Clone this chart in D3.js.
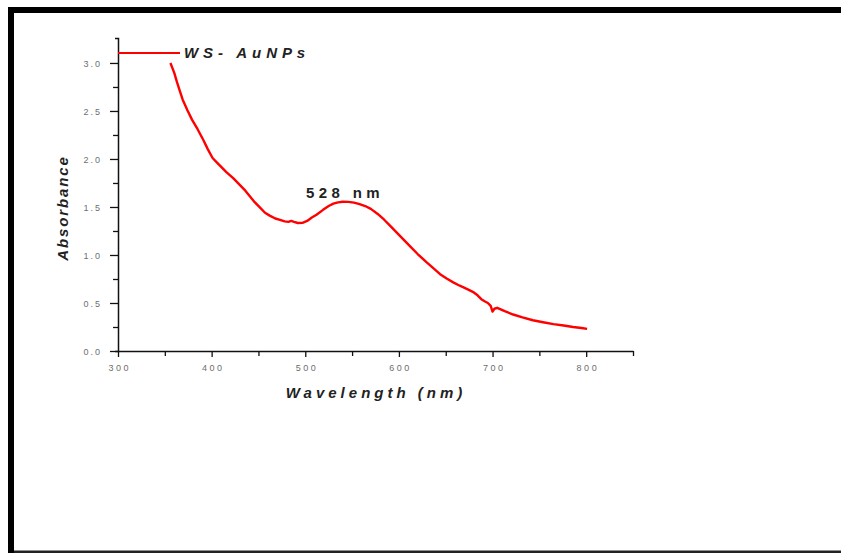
<!DOCTYPE html>
<html>
<head>
<meta charset="utf-8">
<script src="https://cdn.jsdelivr.net/npm/d3@7"></script>
<style>
  body { margin: 0; background: #fff; }
  svg { display: block; font-family: "Liberation Sans", Arial, sans-serif; }
</style>
</head>
<body>
<div id="chart"></div>
<script>
// UV-Vis spectrum values
var wavelengths = [356, 360, 363, 366, 369, 374, 379, 385, 391, 396, 401, 406, 411, 416, 423, 430, 436, 441, 446, 452,
                   457, 462, 468, 473, 478, 482, 485, 488, 492, 497, 502, 507, 512, 519, 525, 530, 535, 540, 546,
                   552, 558, 564, 570, 577, 584, 591, 598, 605, 612, 620, 630, 637, 644, 651, 658, 665, 673, 680,
                   684, 688, 692, 695, 698, 700, 702, 705, 713, 722, 732, 743, 754, 765, 776, 786, 795, 801];
var absorbance  = [3.00, 2.90, 2.80, 2.71, 2.62, 2.51, 2.41, 2.31, 2.20, 2.10, 2.01, 1.96, 1.91, 1.86, 1.80, 1.73, 1.67, 1.61, 1.55, 1.49,
                   1.44, 1.41, 1.38, 1.365, 1.35, 1.345, 1.355, 1.345, 1.333, 1.335, 1.355, 1.39, 1.42, 1.47, 1.51, 1.535, 1.548, 1.555, 1.553,
                   1.545, 1.53, 1.51, 1.48, 1.43, 1.37, 1.30, 1.23, 1.16, 1.09, 1.01, 0.92, 0.86, 0.80, 0.755, 0.715, 0.68, 0.645, 0.61,
                   0.58, 0.54, 0.515, 0.50, 0.47, 0.41, 0.44, 0.45, 0.415, 0.38, 0.35, 0.32, 0.30, 0.28, 0.265, 0.25, 0.24, 0.23];

var xMajorTicks = [300, 400, 500, 600, 700, 800];
var xMinorTicks = [350, 450, 550, 650, 750, 850];
var yMajorTicks = [0.0, 0.5, 1.0, 1.5, 2.0, 2.5, 3.0];
var yMinorTicks = [0.25, 0.75, 1.25, 1.75, 2.25, 2.75];

var seriesName = "WS- AuNPs";
var peakLabel = "528 nm";
var xTitle = "Wavelength (nm)";
var yTitle = "Absorbance";

var W = 841, H = 553;
var svg = d3.select("#chart").append("svg")
  .attr("width", W).attr("height", H);

// frame round the picture
svg.append("rect").attr("x", 8).attr("y", 7).attr("width", W - 8).attr("height", 6).attr("fill", "#000");
svg.append("rect").attr("x", 8).attr("y", 7).attr("width", 6).attr("height", H - 7).attr("fill", "#000");
svg.append("rect").attr("x", 14).attr("y", 550.5).attr("width", W - 14).attr("height", 2.5).attr("fill", "#222");

// scales
var x = d3.scaleLinear().domain([300, 850]).range([118, 633]);
var y = d3.scaleLinear().domain([0, 3.26]).range([351, 38]);

var tickColor = "#6e6e6e";

// y axis
var yAxis = svg.append("g").attr("transform", "translate(118,0)")
  .call(d3.axisLeft(y).tickValues(yMajorTicks).tickSize(8).tickSizeOuter(3).tickFormat(d3.format(".1f")));
svg.append("g").attr("transform", "translate(118,0)")
  .call(d3.axisLeft(y).tickValues(yMinorTicks).tickSize(5).tickSizeOuter(0).tickFormat(""))
  .select(".domain").remove();

// x axis
var xAxis = svg.append("g").attr("transform", "translate(0,351)")
  .call(d3.axisBottom(x).tickValues(xMajorTicks).tickSize(6).tickSizeOuter(0).tickFormat(d3.format("d")));
svg.append("g").attr("transform", "translate(0,351)")
  .call(d3.axisBottom(x).tickValues(xMinorTicks).tickSize(5).tickSizeOuter(0).tickFormat(""))
  .select(".domain").remove();

svg.selectAll(".domain").attr("stroke", "#111").attr("stroke-width", 1.5);
svg.selectAll(".tick line").attr("stroke", "#111").attr("stroke-width", 1.3);

yAxis.selectAll(".tick text")
  .attr("x", -16).attr("dy", "0.35em")
  .attr("fill", tickColor).attr("font-size", 9)
  .style("letter-spacing", "2px");
xAxis.selectAll(".tick text")
  .attr("y", 14).attr("dx", 1.2)
  .attr("fill", tickColor).attr("font-size", 9)
  .style("letter-spacing", "2.5px");
svg.selectAll(".tick text").attr("font-family", null);

// spectrum line
var line = d3.line()
  .x(function(d, i) { return x(wavelengths[i]); })
  .y(function(d) { return y(d); });

svg.append("path")
  .datum(absorbance)
  .attr("d", line)
  .attr("fill", "none")
  .attr("stroke", "#ff0000")
  .attr("stroke-width", 2.4)
  .attr("stroke-linejoin", "round");

// legend
svg.append("line")
  .attr("x1", 118).attr("x2", 180).attr("y1", 53).attr("y2", 53)
  .attr("stroke", "#ff0000").attr("stroke-width", 2.2);
svg.append("text")
  .attr("x", 184).attr("y", 58)
  .attr("font-size", 15).attr("font-weight", "bold").attr("font-style", "italic")
  .attr("fill", "#222")
  .style("letter-spacing", "4.9px")
  .text(seriesName);

// peak annotation
svg.append("text")
  .attr("x", 306).attr("y", 198)
  .attr("font-size", 15).attr("font-weight", "bold")
  .attr("fill", "#222")
  .style("letter-spacing", "4.4px")
  .text(peakLabel);

// axis titles
svg.append("text")
  .attr("x", 376).attr("y", 398)
  .attr("text-anchor", "middle")
  .attr("font-size", 15).attr("font-weight", "bold").attr("font-style", "italic")
  .attr("fill", "#222")
  .style("letter-spacing", "4px")
  .text(xTitle);

svg.append("text")
  .attr("transform", "translate(68,208) rotate(-90)")
  .attr("text-anchor", "middle")
  .attr("font-size", 15).attr("font-weight", "bold").attr("font-style", "italic")
  .attr("fill", "#222")
  .style("letter-spacing", "1.9px")
  .text(yTitle);
</script>
</body>
</html>
